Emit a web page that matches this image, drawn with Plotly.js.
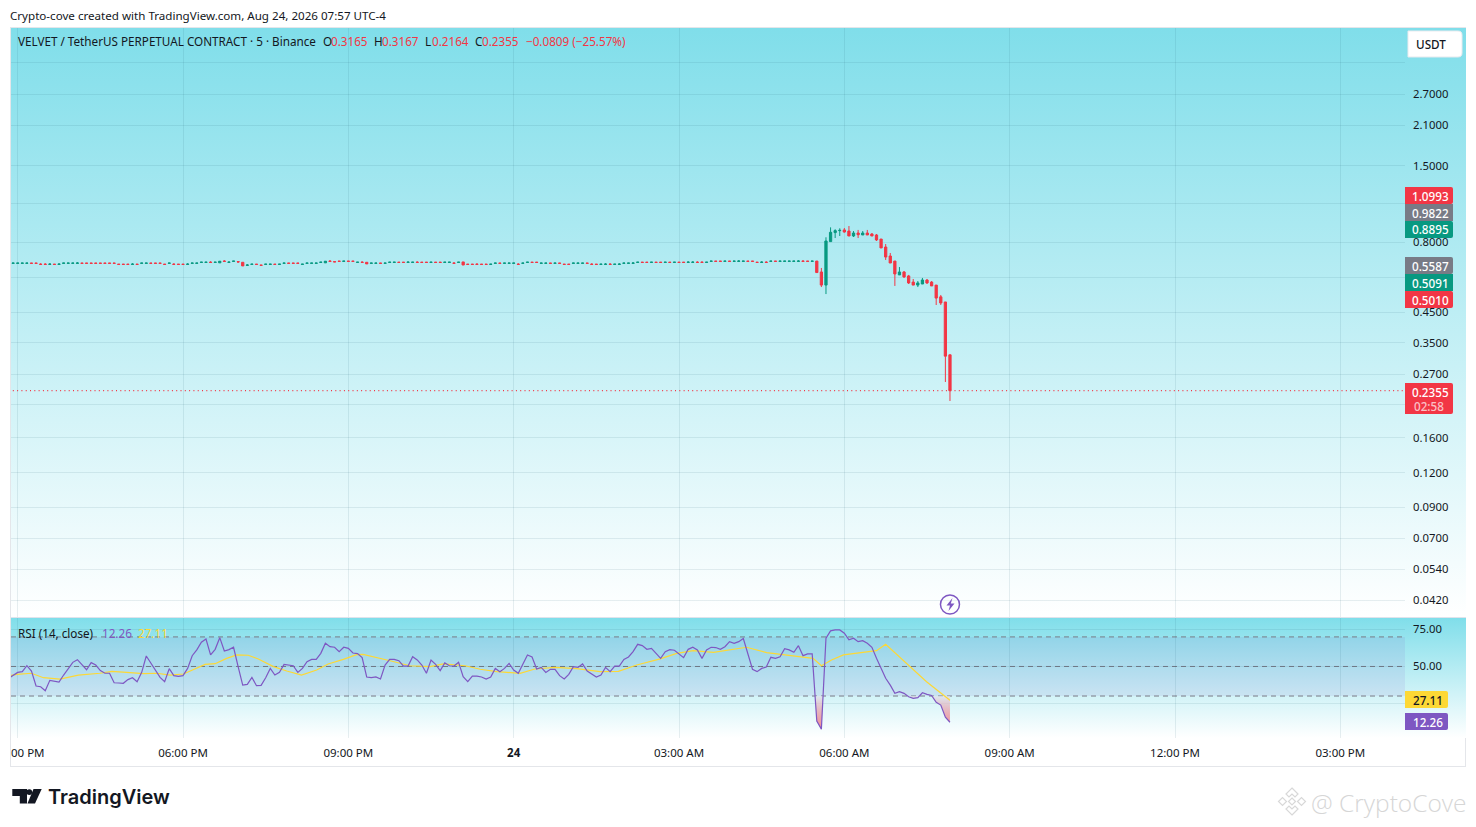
<!DOCTYPE html>
<html><head><meta charset="utf-8">
<script src="https://cdn.plot.ly/plotly-3.0.1.min.js"></script>
<style>
html,body{margin:0;padding:0;background:#fff;width:1476px;height:827px;overflow:hidden}
#wrap{position:relative;width:1476px;height:827px}
.bg{position:absolute;left:11px;width:1455px;background:linear-gradient(180deg,#80deea 0%,#ffffff 100%)}
#frame{position:absolute;left:10px;top:27px;width:1456px;height:740px;border:1px solid #e4e6ea;box-sizing:border-box}
#chart{position:absolute;left:0;top:0;width:1476px;height:827px}
</style></head><body>
<div id="wrap">
<div id="frame"></div>
<div class="bg" style="top:28px;height:589px"></div>
<div style="position:absolute;left:11px;top:617px;width:1455px;height:1px;background:#e0e3eb"></div>
<div class="bg" style="top:618px;height:120px"></div>
<div id="chart"></div>
</div>
<script>
// ---- candles, 5 minute bars, bar 0 = 02:55 PM on the 23rd ----
const open=[.6722,.6722,.6722,.6722,.6738,.6738,.6678,.6678,.6662,.6678,
.6662,.6722,.6722,.6722,.6722,.6738,.6738,.6738,.6738,.6738,
.6738,.6738,.6738,.6678,.6678,.6678,.6662,.6678,.6722,.6722,
.6738,.6738,.6738,.6678,.6722,.6678,.6678,.6678,.6662,.6722,
.6722,.6772,.6772,.6788,.6772,.675,.6848,.6772,.6832,.6818,
.678,.6612,.6662,.6678,.6628,.6662,.6662,.6678,.6662,.6722,
.6738,.6738,.6738,.6662,.6722,.6722,.6722,.6772,.675,.6848,
.6818,.6848,.6832,.6848,.6848,.6772,.6788,.678,.6722,.6722,
.6738,.6722,.6772,.6772,.6788,.6788,.6772,.6772,.6788,.6788,
.6788,.6772,.6788,.6788,.6772,.6772,.6738,.6772,.68,.6678,
.6678,.6678,.6678,.6678,.6662,.6722,.6738,.6722,.6722,.6722,
.6678,.6722,.6772,.6788,.6788,.6722,.6722,.6738,.6722,.6738,
.6678,.6678,.6722,.6722,.6722,.6738,.6678,.6678,.6662,.6662,
.6678,.6662,.6662,.6722,.6722,.6722,.6772,.6788,.6788,.6772,
.6788,.6788,.6772,.6788,.6772,.6788,.6788,.6772,.6772,.6788,
.6788,.6772,.6832,.6848,.6848,.6832,.6848,.6832,.6832,.6832,
.6848,.6848,.6788,.6772,.6788,.6832,.6848,.6832,.6832,.6832,
.6832,.6832,.6848,.6848,.6832,
.685,.626,.562,.804,.866,.880,.885,.877,.842,.863,
.849,.863,.856,.849,.821,.769,.714,.685,.611,.626,
.606,.576,.562,.567,.586,.576,.562,.510,.489,.3165];
const high=[.6738,.6738,.6738,.6738,.6738,.6738,.673,.673,.673,.6678,
.673,.6738,.6738,.6738,.679,.6738,.6738,.6738,.6738,.6738,
.6738,.6738,.6738,.6678,.6678,.6678,.673,.6678,.6738,.6738,
.6738,.6738,.6738,.6678,.6738,.673,.6678,.6678,.673,.6738,
.6738,.6788,.6788,.684,.6788,.684,.69,.684,.6848,.6818,
.678,.668,.6678,.6678,.6628,.6678,.6678,.6678,.6678,.6738,
.6738,.6738,.6738,.6678,.6738,.6738,.6738,.6788,.684,.69,
.6818,.6848,.6848,.6848,.6848,.6788,.684,.678,.6738,.6738,
.6738,.6738,.6788,.6788,.6788,.6788,.684,.6788,.684,.6788,
.6788,.6788,.6788,.6788,.6788,.6788,.679,.6788,.68,.6678,
.6678,.673,.6678,.6678,.6678,.6738,.6738,.6738,.6738,.6738,
.673,.6738,.6788,.6788,.6788,.6738,.6738,.6738,.6738,.6738,
.6678,.6678,.6738,.6738,.6738,.6738,.673,.6678,.6678,.673,
.673,.6678,.673,.6738,.6738,.679,.6788,.6788,.6788,.6788,
.6788,.6788,.6788,.6788,.6788,.6788,.6788,.684,.684,.684,
.684,.6788,.6848,.6848,.6848,.6848,.6848,.6848,.69,.6848,
.6848,.6848,.6788,.684,.684,.6848,.6848,.6848,.6848,.6848,
.6848,.69,.69,.6848,.6848,
.685,.647,.833,.904,.890,.897,.899,.914,.877,.885,
.877,.885,.863,.856,.821,.788,.732,.685,.652,.631,
.611,.591,.581,.596,.591,.581,.562,.518,.489,.3167];
const low=[.6722,.6722,.6722,.6722,.6722,.6722,.6662,.6662,.6662,.6662,
.6662,.6722,.6722,.6722,.6722,.6722,.6722,.6722,.6722,.6722,
.6722,.6722,.6722,.6662,.6662,.6662,.6662,.6662,.6722,.6722,
.6722,.6722,.6722,.6662,.6722,.6662,.6662,.6662,.6662,.6722,
.6722,.6772,.6772,.6772,.6772,.675,.6832,.6772,.6832,.675,
.658,.6612,.6662,.6662,.6612,.6662,.6662,.6662,.6662,.6722,
.6722,.6722,.6722,.6662,.6722,.6722,.6722,.6772,.675,.6832,
.6802,.6832,.6832,.6832,.6832,.6772,.6772,.669,.6722,.6722,
.6722,.6722,.6772,.6772,.6772,.6772,.6772,.6772,.6772,.6772,
.6772,.6772,.6772,.6772,.6772,.6772,.6722,.6772,.663,.6662,
.6662,.6662,.6662,.6662,.6662,.6722,.6722,.6722,.6722,.6722,
.6662,.6722,.6772,.6772,.6772,.6722,.6722,.6722,.6722,.6722,
.6662,.6662,.6722,.6722,.6722,.6722,.6662,.6662,.6662,.6662,
.6662,.6662,.6662,.6722,.6722,.6722,.6772,.6772,.6772,.6772,
.6772,.6772,.6772,.6772,.6772,.6772,.6772,.6772,.6772,.6772,
.6772,.6772,.6832,.6832,.6832,.6832,.6832,.6832,.6832,.6832,
.6832,.6832,.6772,.6772,.6772,.6832,.6832,.6832,.6832,.6832,
.6832,.6832,.6832,.6832,.6832,
.623,.553,.522,.804,.828,.842,.866,.842,.835,.828,
.849,.849,.842,.808,.763,.691,.674,.558,.611,.596,
.567,.562,.553,.567,.567,.558,.477,.477,.253,.2164];
const close=[.6738,.6738,.6738,.6738,.6722,.6722,.6662,.6662,.6678,.6662,
.6678,.6738,.6738,.6738,.6738,.6722,.6722,.6722,.6722,.6722,
.6722,.6722,.6722,.6662,.6662,.6662,.6678,.6662,.6738,.6738,
.6722,.6722,.6722,.6662,.6738,.6662,.6662,.6662,.6678,.6738,
.6738,.6788,.6788,.6772,.6788,.684,.6832,.6788,.6848,.6802,
.658,.6628,.6678,.6662,.6612,.6678,.6678,.6662,.6678,.6738,
.6722,.6722,.6722,.6678,.6738,.6738,.6738,.6788,.684,.6832,
.6802,.6832,.6848,.6832,.6832,.6788,.6772,.669,.6738,.6738,
.6722,.6738,.6788,.6788,.6772,.6772,.6788,.6788,.6772,.6772,
.6772,.6788,.6772,.6772,.6788,.6788,.6722,.6788,.663,.6662,
.6662,.6662,.6662,.6662,.6678,.6738,.6722,.6738,.6738,.6738,
.6662,.6738,.6788,.6772,.6772,.6738,.6738,.6722,.6738,.6722,
.6662,.6662,.6738,.6738,.6738,.6722,.6662,.6662,.6678,.6678,
.6662,.6678,.6678,.6738,.6738,.6738,.6788,.6772,.6772,.6788,
.6772,.6772,.6788,.6772,.6788,.6772,.6772,.6788,.6788,.6772,
.6772,.6788,.6848,.6832,.6832,.6848,.6832,.6848,.6848,.6848,
.6832,.6832,.6772,.6788,.6772,.6848,.6832,.6848,.6848,.6848,
.6848,.6848,.6832,.6832,.6848,
.623,.562,.808,.868,.880,.882,.870,.842,.863,.851,
.863,.849,.842,.815,.763,.708,.674,.616,.626,.601,
.572,.562,.572,.586,.572,.558,.505,.485,.313,.2355];

// ---- RSI, one value per bar, starting one bar before bar 0 ----
const rsi=[42.0,44.2,46.0,46.5,50.5,46.9,36.8,36.3,33.6,40.6,40.2,39.5,44.2,48.1,52.8,54.6,51.0,47.8,52.6,51.0,
47.2,45.4,45.4,39.0,38.8,38.6,41.1,42.4,39.7,46.0,57.1,52.1,47.6,42.6,39.7,48.5,43.8,43.3,43.8,48.7,
57.3,61.2,66.4,68.6,57.8,61.6,69.5,60.5,61.4,63.0,49.9,37.4,37.9,42.6,37.0,37.2,42.4,48.7,44.2,46.0,
51.4,51.0,50.5,46.0,48.7,53.3,54.8,54.8,58.9,65.7,63.4,63.0,60.0,63.0,62.3,59.1,58.7,56.0,42.9,42.4,
42.9,41.5,51.0,54.8,54.8,53.9,50.3,50.3,56.6,54.4,51.0,45.4,54.4,51.4,47.2,52.4,50.5,50.3,52.8,43.1,
39.7,43.5,43.5,42.9,41.5,42.9,48.7,46.5,48.7,52.1,47.6,45.4,51.4,57.8,56.4,48.3,49.4,46.0,48.1,48.1,
43.8,41.5,44.7,49.9,49.4,51.7,46.9,44.7,42.9,44.2,49.4,46.5,50.3,50.3,54.8,56.4,60.0,65.0,64.1,61.6,
62.3,58.9,55.5,60.0,61.4,61.0,58.2,56.0,61.6,63.0,61.2,55.5,61.2,63.0,62.8,61.6,63.4,66.8,65.7,66.8,
68.9,58.9,48.1,46.5,48.7,49.6,56.2,55.5,56.6,62.1,61.2,59.6,64.1,57.3,58.5,58.5,13.0,7.6,69.1,74.1,
74.7,74.7,72.5,68.0,69.1,66.8,67.5,65.7,63.0,55.5,48.7,42.0,37.4,31.8,32.9,31.8,29.5,28.4,28.9,32.2,
31.1,30.4,25.7,23.9,15.7,12.26];
const maBar=[-0.7,0.8,4,6.6,10.2,14.2,18.9,21.5,24.7,28.4,31.3,34.2,37.1,39.2,41.8,44,46.5,48.7,51.2,53.4,56.7,59.6,62.8,66.1,68.6,71.9,74.8,76.2,79.2,82.1,86.4,90.8,93.7,98.4,101.7,105.3,110.4,113.6,118,122.7,127.8,131.8,135.8,140.9,144.5,148.1,152.5,156.1,159.7,164.1,168.4,174.2,176,178.2,180.8,185.1,188,190,195.6,198.9,204];
const maVal=[43.8,44.7,45.4,42.4,41.5,44.2,45.4,46.7,46.0,45.1,45.4,44.2,44.9,47.6,51.4,51.9,55.5,57.8,57.6,55.1,49.9,46.9,44.2,47.6,51.7,54.8,58.0,58.2,56.2,53.9,50.5,49.9,51.7,50.5,48.1,46.5,45.4,48.3,49.4,48.5,46.5,46.7,51.0,55.1,58.9,60.7,59.6,61.2,63.0,59.4,57.8,55.5,50.5,54.4,57.8,59.4,60.7,65.0,49.2,39.7,27.11];
const dip1Bar=[174.63,175,176,176.36];
const dip1Val=[30,13.0,7.6,30];
const dip2Bar=[194.8,195,196,197,197.3];
const dip2Val=[30,29.5,28.4,28.9,30];
const dip3Bar=[200.1,201,202,203,204,204];
const dip3Val=[30,25.7,23.9,15.7,12.26,30];

// ---- axes ----
const priceTicks=[3.5,2.7,2.1,1.5,1.1,.8,.6,.45,.35,.27,.21,.16,.12,.09,.07,.054,.042];
const priceLabels=["","2.7000","2.1000","1.5000","","0.8000","","0.4500","0.3500","0.2700","","0.1600","0.1200","0.0900","0.0700","0.0540","0.0420"];
const rsiTicks=[75,50,25];
const rsiLabels=["75.00","50.00",""];
const timeBars=[1,37,73,109,145,181,217,253,289];
const timeLabels=["","06:00 PM","09:00 PM","<b>24</b>","03:00 AM","06:00 AM","09:00 AM","12:00 PM","03:00 PM"];
const lastPrice=0.2355;
const signalBar=204, signalPrice=0.0405;

const UP='#089981',DN='#f23645',GR='#787b86',INK='#131722',PUR='#7e57c2',YEL='#fdd835',FONT='"Noto Sans",sans-serif';
const L=11,R=1405,T=28,B=738;
const px=x=>(x-L)/(R-L), py=y=>(B-y)/(B-T);
function txt(x,y,text,o={}){return {xref:'paper',yref:'paper',x:px(x-1),y:py(y),text,showarrow:false,xanchor:o.xa||'left',yanchor:'middle',
  font:{family:o.family||FONT,size:o.size||11.7,color:o.color||INK,weight:o.weight},borderpad:0};}
function rrect(x0,y0,x1,y1,r,fill,line){const X=v=>px(v).toFixed(6),Y=v=>py(v).toFixed(6);
  return {type:'path',xref:'paper',yref:'paper',layer:'above',fillcolor:fill,line:{color:line||'rgba(0,0,0,0)',width:line?1:0},
   path:`M${X(x0)},${Y(y0)}L${X(x1-r)},${Y(y0)}Q${X(x1)},${Y(y0)} ${X(x1)},${Y(y0+r)}L${X(x1)},${Y(y1-r)}Q${X(x1)},${Y(y1)} ${X(x1-r)},${Y(y1)}L${X(x0)},${Y(y1)}Z`};}
function poly(pts,fill,line,lw){const d='M'+pts.map(p=>px(p[0]).toFixed(6)+','+py(p[1]).toFixed(6)).join('L')+'Z';
  return {type:'path',xref:'paper',yref:'paper',path:d,fillcolor:fill||'rgba(0,0,0,0)',line:{color:line||'rgba(0,0,0,0)',width:lw||0},layer:'above'};}
const tagText=(x,y,t,c)=>({xref:'paper',yref:'paper',x:px(x),y:py(y),text:t,showarrow:false,xanchor:'center',yanchor:'middle',borderpad:0,font:{family:FONT,size:11.7,color:c||'#fff',weight:500}});

const annotations=[
 txt(10,15,'Crypto-cove created with TradingView.com, Aug 24, 2026 07:57 UTC-4',{size:11.6}),
 txt(18,41.5,'VELVET / TetherUS PERPETUAL CONTRACT · 5 · Binance',{size:11.7}),
 txt(323,41.5,'O'),txt(331,41.5,'0.3165',{color:DN}),
 txt(374,41.5,'H'),txt(382,41.5,'0.3167',{color:DN}),
 txt(425,41.5,'L'),txt(432,41.5,'0.2164',{color:DN}),
 txt(475,41.5,'C'),txt(482,41.5,'0.2355',{color:DN}),
 txt(526,41.5,'−0.0809 (−25.57%)',{color:DN}),
 txt(18,633,'RSI (14, close)'),
 txt(102,633,'12.26',{color:PUR}),
 txt(138,633,'27.11',{color:YEL}),
 txt(11,752.5,'00 PM',{size:11.5}),
 tagText(1431,195.5,'1.0993'),tagText(1431,212.5,'0.9822'),tagText(1431,229.5,'0.8895'),
 tagText(1431,265.5,'0.5587'),tagText(1431,282.5,'0.5091'),tagText(1431,299.5,'0.5010'),
 tagText(1431,391.5,'0.2355'),tagText(1428.5,405.5,'02:58','rgba(255,255,255,.7)'),
 tagText(1428,699.5,'27.11',INK),tagText(1428,721.5,'12.26'),
 tagText(1431,44,'USDT',INK),
 txt(48,797,'TradingView',{family:'Inter,Roboto,sans-serif',size:20,weight:600}),
 txt(1311,802,'@ CryptoCove',{family:'"Open Sans",sans-serif',size:24.5,color:'#d6d6d6',weight:300})
];

const shapes=[
 {type:'rect',xref:'x domain',yref:'y2',x0:0,x1:1,y0:30,y1:70,fillcolor:'rgba(126,87,194,0.1)',line:{width:0},layer:'below'},
 ...[70,50,30].map(v=>({type:'line',xref:'x domain',yref:'y2',x0:0,x1:1,y0:v,y1:v,line:{color:GR,width:1,dash:'5px,4px'},layer:'below'})),
 rrect(1405,187,1453,204,2,DN),rrect(1405,204,1453,221,0,GR),rrect(1405,221,1453,238,2,UP),
 rrect(1405,257,1453,274,2,GR),rrect(1405,274,1453,291,0,UP),rrect(1405,291,1453,308,2,DN),
 rrect(1405,383,1453,414,2,DN),
 rrect(1405,691,1448,708,2,YEL),rrect(1405,713,1448,730,2,PUR),
 rrect(1408,31,1462,57,4,'#ffffff','#e8eaee'),
 // TradingView mark
 poly([[12.3,789],[27,789],[27,803.5],[19.8,803.5],[19.8,796],[12.3,796]],'#131722'),
 poly([[33.5,789],[41.7,789],[35,803.5],[27.5,803.5]],'#131722'),
 {type:'circle',xref:'paper',yref:'paper',x0:px(26.4),x1:px(32.2),y0:py(789.2),y1:py(795),fillcolor:'#131722',line:{width:0},layer:'above'},
 // signal bolt
 poly([[952.5,598],[946.5,605.5],[950,605.5],[948.5,611],[954.5,603.5],[950.8,603.5]],PUR),
 // watermark mark
 poly([[1292,788],[1298,794],[1295,797],[1292,794],[1289,797],[1286,794]],'rgba(0,0,0,0)','#d8d8d8',1.2),
 poly([[1292,815],[1298,809],[1295,806],[1292,809],[1289,806],[1286,809]],'rgba(0,0,0,0)','#d8d8d8',1.2),
 poly([[1278.5,801.5],[1282.5,797.5],[1286.5,801.5],[1282.5,805.5]],'rgba(0,0,0,0)','#d8d8d8',1.2),
 poly([[1297.5,801.5],[1301.5,797.5],[1305.5,801.5],[1301.5,805.5]],'rgba(0,0,0,0)','#d8d8d8',1.2),
 poly([[1292,798],[1295.5,801.5],[1292,805],[1288.5,801.5]],'rgba(0,0,0,0)','#d8d8d8',1.2)
];

const bars=open.map((_,i)=>i);
const grad={type:'vertical',colorscale:[[0,'rgba(224,227,235,0.75)'],[1,'rgba(242,54,69,0.55)']],start:30,stop:8};
const traces=[
 {type:'scatter',mode:'lines',x:[-1,304],y:[lastPrice,lastPrice],xaxis:'x',yaxis:'y',line:{color:DN,width:1.2,dash:'1px,3.3px'},hoverinfo:'skip'},
 {type:'candlestick',x:bars,open,high,low,close,xaxis:'x',yaxis:'y',whiskerwidth:0,
  increasing:{line:{color:UP,width:1},fillcolor:UP},decreasing:{line:{color:DN,width:1},fillcolor:DN},hoverinfo:'skip'},
 {type:'scatter',mode:'markers',x:[signalBar],y:[signalPrice],xaxis:'x',yaxis:'y',marker:{symbol:'circle',size:19,color:'rgba(255,255,255,0.35)',line:{color:PUR,width:1.5}},hoverinfo:'skip'},
 ...[[dip1Bar,dip1Val],[dip2Bar,dip2Val],[dip3Bar,dip3Val]].map(d=>({type:'scatter',mode:'none',x:d[0],y:d[1],xaxis:'x',yaxis:'y2',fill:'toself',fillgradient:grad,hoverinfo:'skip'})),
 {type:'scatter',mode:'lines',x:maBar,y:maVal,xaxis:'x',yaxis:'y2',line:{color:YEL,width:1.2},hoverinfo:'skip'},
 {type:'scatter',mode:'lines',x:rsi.map((_,i)=>i-1),y:rsi,xaxis:'x',yaxis:'y2',line:{color:PUR,width:1.2},hoverinfo:'skip'}
];
const gridC='rgba(30,90,110,0.10)';
const layout={
 width:1476,height:827,margin:{l:L,r:1476-R,t:T,b:827-B,pad:0},
 paper_bgcolor:'rgba(0,0,0,0)',plot_bgcolor:'rgba(0,0,0,0)',showlegend:false,boxgap:.3,
 font:{family:FONT,size:11.5,color:INK},
 xaxis:{type:'linear',range:[-0.457,303.08],anchor:'y2',domain:[0,1],rangeslider:{visible:false},
   tickmode:'array',tickvals:timeBars,ticktext:timeLabels,showgrid:true,gridcolor:gridC,gridwidth:1,zeroline:false,showline:false,ticks:'',ticklabelstandoff:6,tickfont:{family:FONT,size:11.5,color:INK},fixedrange:true},
 yaxis:{type:'log',range:[-1.4374,0.6692],domain:[(B-617)/(B-T),1],side:'right',anchor:'x',
   tickmode:'array',tickvals:priceTicks,ticktext:priceLabels,showgrid:true,gridcolor:gridC,zeroline:false,showline:false,ticks:'',ticklabelstandoff:7,tickfont:{family:FONT,size:11.3,color:INK},fixedrange:true},
 yaxis2:{type:'linear',range:[1.6,82.8],domain:[0,(B-618)/(B-T)],side:'right',anchor:'x',
   tickmode:'array',tickvals:rsiTicks,ticktext:rsiLabels,showgrid:true,gridcolor:gridC,zeroline:false,showline:false,ticks:'',ticklabelstandoff:7,tickfont:{family:FONT,size:11.3,color:INK},fixedrange:true},
 annotations,shapes
};
Plotly.newPlot('chart',traces,layout,{staticPlot:true,displayModeBar:false});
</script>
</body></html>
